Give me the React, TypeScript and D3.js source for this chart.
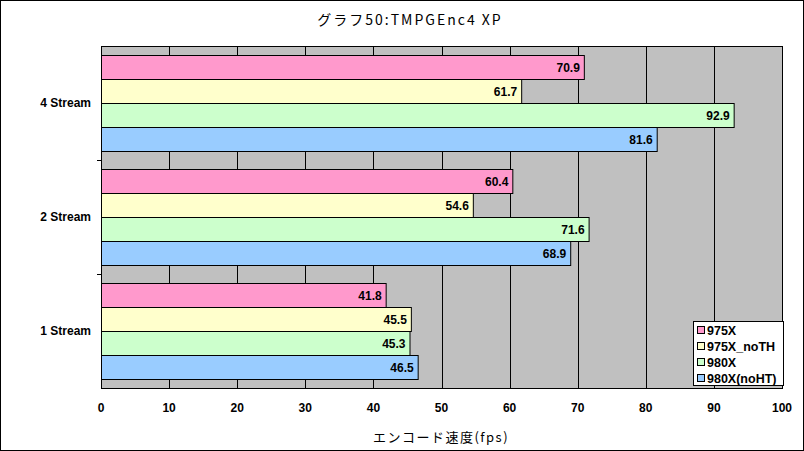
import * as d3 from 'd3';
import { useEffect } from 'react';

const categories = ['4 Stream', '2 Stream', '1 Stream'];
const seriesNames = ['975X', '975X_noTH', '980X', '980X(noHT)'];
const seriesColors = ['#FF99CC', '#FFFFCC', '#CCFFCC', '#99CCFF'];
// values per series, in category order
const s975X = [70.9, 60.4, 41.8];
const s975XnoTH = [61.7, 54.6, 45.5];
const s980X = [92.9, 71.6, 45.3];
const s980XnoHT = [81.6, 68.9, 46.5];
const seriesValues = [s975X, s975XnoTH, s980X, s980XnoHT];
const xTicks = [0, 10, 20, 30, 40, 50, 60, 70, 80, 90, 100];

const W = 804;
const H = 451;
const plot = { left: 101, right: 782, top: 46, bottom: 388 };
const jpFont = '"Noto Sans CJK JP", sans-serif';
const numFont = '"Liberation Sans", Arial, sans-serif';

export default function App() {
  useEffect(() => {
    document.body.style.margin = '0';
  }, []);

  const x = d3.scaleLinear().domain([0, 100]).range([plot.left, plot.right]);
  const y = d3
    .scaleBand<string>()
    .domain(categories)
    .range([plot.top, plot.bottom])
    .paddingInner(0.158)
    .paddingOuter(0.079);
  const inner = d3
    .scaleBand<string>()
    .domain(seriesNames)
    .range([0, y.bandwidth()]);

  const step = y.step();

  return (
    <svg width={W} height={H} style={{ display: 'block' }}>
      <rect x={0.5} y={0.5} width={W - 1} height={H - 1} fill="#fff" stroke="#000" />
      <text x={410} y={25} textAnchor="middle" fontFamily={jpFont} fontSize={14} letterSpacing={2}>
        グラフ50:TMPGEnc4 XP
      </text>

      <rect
        x={plot.left}
        y={plot.top}
        width={plot.right - plot.left}
        height={plot.bottom - plot.top}
        fill="#C0C0C0"
      />
      {xTicks.slice(1, -1).map((t) => (
        <line key={t} x1={Math.round(x(t)) + 0.5} x2={Math.round(x(t)) + 0.5} y1={plot.top} y2={plot.bottom} stroke="#000" />
      ))}

      {categories.map((c, ci) =>
        seriesNames.map((s, si) => {
          const v = seriesValues[si][ci];
          const by = (y(c) ?? 0) + (inner(s) ?? 0);
          const bw = x(v) - x(0);
          return (
            <g key={c + s}>
              <rect
                x={x(0) + 0.5}
                y={Math.round(by) + 0.5}
                width={bw}
                height={Math.round(inner.bandwidth())}
                fill={seriesColors[si]}
                stroke="#000"
              />
              <text
                x={x(v) - 4}
                y={by + inner.bandwidth() / 2 + 5}
                textAnchor="end"
                fontFamily={numFont}
                fontWeight="bold"
                fontSize={12}
              >
                {v.toFixed(1)}
              </text>
            </g>
          );
        })
      )}

      <rect
        x={plot.left + 0.5}
        y={plot.top + 0.5}
        width={plot.right - plot.left}
        height={plot.bottom - plot.top}
        fill="none"
        stroke="#000"
      />
      {categories.slice(1).map((c) => {
        const ty = Math.round((y(c) ?? 0) - (step - y.bandwidth()) / 2) + 0.5;
        return <line key={c} x1={plot.left - 4} x2={plot.left} y1={ty} y2={ty} stroke="#000" />;
      })}
      {categories.map((c) => (
        <text
          key={c}
          x={91}
          y={(y(c) ?? 0) + y.bandwidth() / 2 + 4}
          textAnchor="end"
          fontFamily={numFont}
          fontWeight="bold"
          fontSize={12}
        >
          {c}
        </text>
      ))}
      {xTicks.map((t) => (
        <text
          key={t}
          x={x(t)}
          y={412}
          textAnchor="middle"
          fontFamily={numFont}
          fontWeight="bold"
          fontSize={12}
        >
          {t}
        </text>
      ))}
      <text x={441} y={442} textAnchor="middle" fontFamily={jpFont} fontSize={13} letterSpacing={1.5}>
        エンコード速度(fps)
      </text>

      <g transform="translate(693,321)">
        <rect x={0.5} y={0.5} width={90} height={64} fill="#fff" stroke="#000" />
        {seriesNames.map((s, i) => (
          <g key={s} transform={`translate(0,${9 + i * 16})`}>
            <rect x={4.5} y={-3.5} width={7} height={7} fill={seriesColors[i]} stroke="#000" />
            <text x={14} y={4.5} fontFamily={numFont} fontWeight="bold" fontSize={12.5}>
              {s}
            </text>
          </g>
        ))}
      </g>
    </svg>
  );
}
